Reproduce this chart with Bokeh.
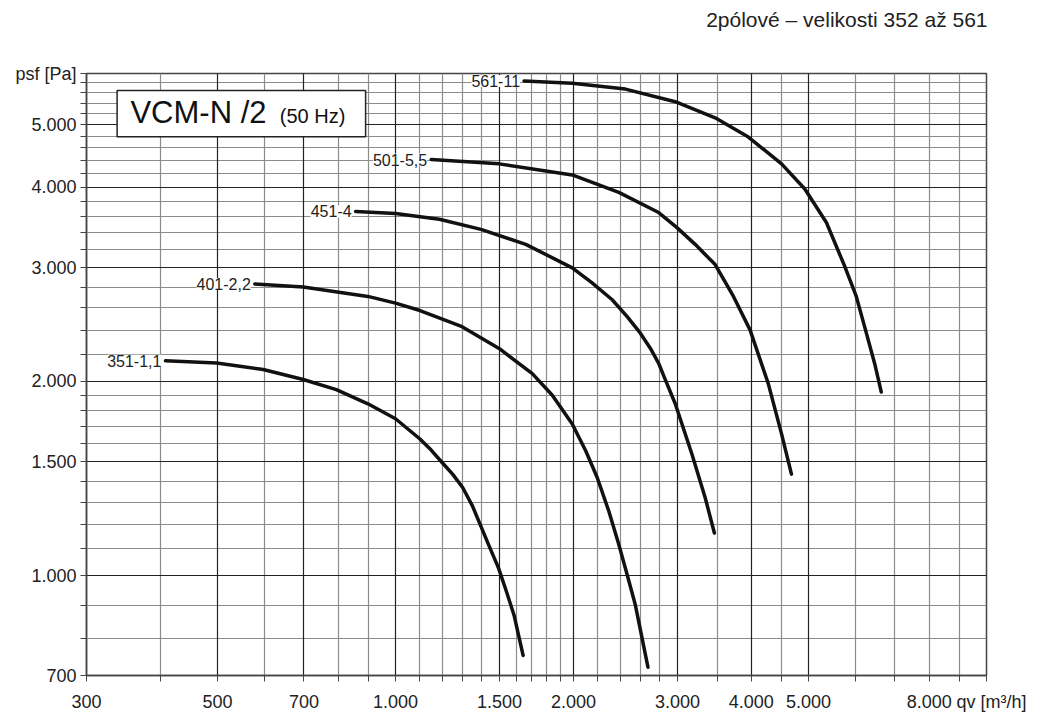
from bokeh.plotting import figure
from bokeh.models import FixedTicker, CustomJSTickFormatter, Label, BoxAnnotation, Grid, Title
from bokeh.embed import file_html
from bokeh.resources import INLINE

FONT = "Liberation Sans"

# ---- data ----
curve_names = ["351-1,1", "401-2,2", "451-4", "501-5,5", "561-11"]
q_351 = [408, 498, 597, 698, 794, 898, 1000, 1100, 1149, 1199, 1249, 1299, 1350, 1395, 1441, 1494, 1541, 1587, 1644]
p_351 = [2152, 2136, 2086, 2013, 1942, 1846, 1750, 1628, 1565, 1497, 1436, 1369, 1281, 1192, 1110, 1027, 944, 868, 752]
q_401 = [578, 698, 898, 1000, 1100, 1296, 1497, 1704, 1842, 1991, 2098, 2194, 2296, 2387, 2466, 2546, 2674]
p_401 = [2831, 2801, 2708, 2644, 2575, 2431, 2249, 2056, 1903, 1718, 1561, 1419, 1258, 1117, 1003, 900, 721]
q_451 = [856, 1000, 1186, 1395, 1661, 1991, 2151, 2326, 2466, 2596, 2700, 2788, 2879, 2974, 3173, 3342, 3464]
p_451 = [3667, 3640, 3566, 3440, 3261, 2999, 2842, 2676, 2520, 2375, 2249, 2132, 1984, 1846, 1543, 1320, 1164]
q_501 = [1149, 1497, 1991, 2387, 2788, 2994, 3214, 3474, 3731, 3980, 4273, 4500, 4677]
p_501 = [4414, 4346, 4178, 3926, 3653, 3462, 3261, 3034, 2708, 2403, 1984, 1658, 1436]
q_561 = [1650, 1991, 2449, 2974, 3474, 3954, 4500, 4927, 5359, 5754, 6021, 6219, 6467, 6637]
p_561 = [5841, 5793, 5675, 5425, 5122, 4783, 4345, 3973, 3525, 3017, 2708, 2431, 2132, 1925]

x_major = [300, 500, 700, 1000, 1500, 2000, 3000, 4000, 5000, 8000, 10000]
x_minor = [400, 600, 800, 900, 1100, 1200, 1300, 1400, 1600, 1700, 1800, 1900,
           2200, 2400, 2600, 2800, 3500, 4500, 6000, 7000, 9000]
y_major = [700, 1000, 1500, 2000, 3000, 4000, 5000, 6000]
y_minor = [800, 900, 1100, 1200, 1300, 1400, 1600, 1700, 1800, 1900,
           2200, 2400, 2600, 2800, 3200, 3400, 3600, 3800, 4200, 4400, 4600, 4800,
           5200, 5400, 5600, 5800]
x_dark = [500, 700, 1000, 1500, 2000, 3000, 4000, 5000]
x_light = [v for v in x_major + x_minor if v not in x_dark]
y_dark = [1000, 1500, 2000, 3000, 4000, 5000]
y_light = [v for v in y_major + y_minor if v not in y_dark]

x_title = "\u00a0\u00a0qv [m³/h]"
y_title = "psf [Pa]"
chart_title = "2pólové – velikosti 352 až 561"
box_title = "VCM-N /2"
box_subtitle = "(50 Hz)"

x_range = (300, 10000)
y_range = (700, 6000)

p = figure(width=1041, height=718, x_axis_type="log", y_axis_type="log",
           x_range=x_range, y_range=y_range, output_backend="svg",
           toolbar_location=None, min_border_left=86, min_border_right=55,
           min_border_top=73, min_border_bottom=43)
p.background_fill_color = "white"
p.border_fill_color = "white"
p.outline_line_color = "#444444"
p.outline_line_width = 1.5

def make_fmt(edge, title):
    return CustomJSTickFormatter(args=dict(edge=edge, title=title), code="""
const v = Math.round(tick);
if (v == edge) return title;
const s = v.toString();
return v >= 1000 ? s.slice(0, -3) + '.' + s.slice(-3) : s;
""")

for ax, maj, mnr, edge, ttl in ((p.xaxis[0], x_major, x_minor, x_range[1], x_title),
                                (p.yaxis[0], y_major, y_minor, y_range[1], y_title)):
    ax.ticker = FixedTicker(ticks=maj, minor_ticks=mnr)
    ax.formatter = make_fmt(edge, ttl)
    ax.major_label_text_font = FONT
    ax.major_label_text_font_size = "18px"
    ax.major_label_text_color = "#222222"
    ax.axis_line_color = "#444444"
    ax.axis_line_width = 1.5
    ax.major_tick_line_color = "#444444"
    ax.minor_tick_line_color = "#444444"
    ax.major_tick_in = 0
    ax.minor_tick_in = 0
    ax.major_tick_out = 6
    ax.minor_tick_out = 6
p.xaxis.major_label_standoff = 10
p.yaxis.major_label_standoff = 4

# grids
p.xgrid.visible = False
p.ygrid.visible = False
p.add_layout(Grid(dimension=0, ticker=FixedTicker(ticks=x_light),
                  grid_line_color="#8c8c8c", grid_line_width=1.2))
p.add_layout(Grid(dimension=1, ticker=FixedTicker(ticks=y_light),
                  grid_line_color="#8c8c8c", grid_line_width=1.2))
p.add_layout(Grid(dimension=0, ticker=FixedTicker(ticks=x_dark),
                  grid_line_color="#222222", grid_line_width=1.2))
p.add_layout(Grid(dimension=1, ticker=FixedTicker(ticks=y_dark),
                  grid_line_color="#222222", grid_line_width=1.2))

series = [(q_351, p_351), (q_401, p_401), (q_451, p_451), (q_501, p_501), (q_561, p_561)]
for name, (qs, ps) in zip(curve_names, series):
    p.line(qs, ps, line_color="#111111", line_width=3.5, line_cap="round", line_join="round")
    p.add_layout(Label(x=qs[0], y=ps[0], text=name, x_offset=-4, text_align="right",
                       text_baseline="middle", text_font=FONT, text_font_size="16px",
                       text_color="#222222", background_fill_color="white"))

# product box
p.add_layout(BoxAnnotation(left=338, right=890, bottom=4787, top=5649,
                           fill_color="white", fill_alpha=1.0,
                           line_color="#222222", line_alpha=1.0, line_width=1.5,
                           level="overlay"))
p.add_layout(Label(x=356, y=5219, text=box_title, text_font=FONT, text_font_size="31px",
                   text_color="#111111", text_baseline="middle", level="overlay"))
p.add_layout(Label(x=637, y=5164, text=box_subtitle, text_font=FONT, text_font_size="20px",
                   text_color="#111111", text_baseline="middle", level="overlay"))

# spacer title (closest to frame), then the real title above it
p.add_layout(Title(text=" ", text_font_size="2px", standoff=37), "above")
p.add_layout(Title(text=chart_title, align="right", vertical_align="top",
                   text_font=FONT, text_font_size="21px", text_font_style="normal",
                   text_color="#222222", standoff=0, offset=-1), "above")

open("out.html", "w").write(file_html(p, INLINE))
